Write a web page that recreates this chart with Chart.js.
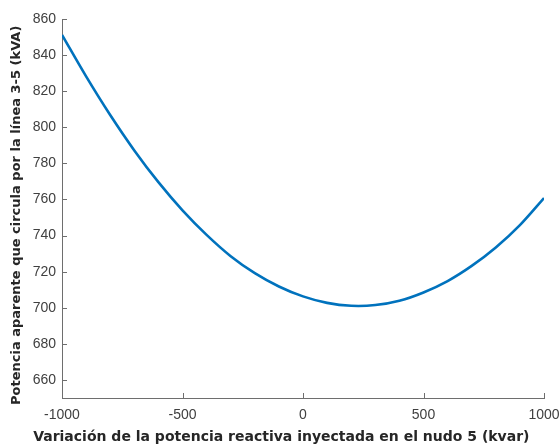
<!DOCTYPE html>
<html>
<head>
<meta charset="utf-8">
<script src="https://cdn.jsdelivr.net/npm/chart.js@4.4.1/dist/chart.umd.min.js"></script>
<style>
  html, body { margin: 0; padding: 0; background: #ffffff; }
  #wrap { width: 559px; height: 444px; position: relative; }
</style>
</head>
<body>
<div id="wrap"><canvas id="c" width="559" height="444"></canvas></div>
<script>
// Reactive power variation injected at node 5 (kvar)
const qValues = [-1000, -900, -800, -700, -600, -500, -400, -300, -200, -100, 0,
                 100, 200, 300, 400, 500, 600, 700, 800, 900, 1000];
// Apparent power through line 3-5 (kVA)
const sValues = [851.2, 828.2, 806.8, 787.2, 769.6, 754.0, 740.4, 728.6, 719.2, 711.8, 706.3,
                 702.7, 701.1, 701.5, 703.9, 708.5, 714.8, 723.2, 733.4, 745.8, 760.8];
const xTickValues = [-1000, -500, 0, 500, 1000];
const yTickValues = [660, 680, 700, 720, 740, 760, 780, 800, 820, 840, 860];

const xTitle = 'Variación de la potencia reactiva inyectada en el nudo 5 (kvar)';
const yTitle = 'Potencia aparente que circula por la línea 3-5 (kVA)';

const FONT = "'Liberation Sans', Arial, Helvetica, sans-serif";
const TITLE_FONT = "'DejaVu Sans', 'Liberation Sans', Arial, sans-serif";
const AXIS_COLOR = '#6e6e6e';
const TEXT_COLOR = '#404040';

const innerTicksAndTitles = {
  id: 'innerTicksAndTitles',
  afterDraw(chart) {
    const ctx = chart.ctx;
    const xs = chart.scales.x, ys = chart.scales.y;
    const a = chart.chartArea;
    ctx.save();
    ctx.strokeStyle = AXIS_COLOR;
    ctx.lineWidth = 1;
    ctx.beginPath();
    xTickValues.forEach(v => {
      const px = Math.round(xs.getPixelForValue(v)) + 0.5;
      ctx.moveTo(px, a.bottom);
      ctx.lineTo(px, a.bottom - 5);
    });
    yTickValues.forEach(v => {
      const py = Math.round(ys.getPixelForValue(v)) + 0.5;
      ctx.moveTo(a.left, py);
      ctx.lineTo(a.left + 5, py);
    });
    ctx.stroke();

    // axis titles
    ctx.fillStyle = '#262626';
    ctx.textAlign = 'center';
    ctx.textBaseline = 'middle';
    ctx.font = "bold 14px " + TITLE_FONT;
    ctx.fillText(xTitle, a.left + (a.right - a.left) * 0.455, 437);
    ctx.translate(17, a.top + (a.bottom - a.top) * 0.518);
    ctx.rotate(-Math.PI / 2);
    ctx.font = "bold 13px " + TITLE_FONT;
    ctx.fillText(yTitle, 0, 0);
    ctx.restore();
  }
};

new Chart(document.getElementById('c'), {
  type: 'scatter',
  data: {
    datasets: [{
      data: qValues.map((q, i) => ({ x: q, y: sValues[i] })),
      showLine: true,
      borderColor: '#0072BD',
      borderWidth: 2.6,
      pointRadius: 0,
      tension: 0.3,
      fill: false
    }]
  },
  options: {
    responsive: false,
    animation: false,
    devicePixelRatio: 1,
    layout: { padding: { top: 19, right: 15, left: 0, bottom: 0 } },
    plugins: { legend: { display: false }, tooltip: { enabled: false } },
    scales: {
      x: {
        type: 'linear',
        min: -1000, max: 1000,
        afterBuildTicks(s) { s.ticks = xTickValues.map(v => ({ value: v })); },
        afterFit(s) { s.height = 46; s.paddingLeft = 0; s.paddingRight = 0; },
        grid: { display: false, drawTicks: false },
        border: { display: true, color: AXIS_COLOR, width: 1 },
        ticks: {
          padding: 9,
          color: TEXT_COLOR,
          font: { family: FONT, size: 14 },
          maxRotation: 0,
          autoSkip: false,
          callback: v => String(v)
        },
        title: { display: false }
      },
      y: {
        type: 'linear',
        min: 650, max: 860,
        afterBuildTicks(s) { s.ticks = yTickValues.map(v => ({ value: v })); },
        afterFit(s) { s.width = 62; s.paddingTop = 0; s.paddingBottom = 0; },
        grid: { display: false, drawTicks: false },
        border: { display: true, color: AXIS_COLOR, width: 1 },
        ticks: {
          padding: 6,
          color: TEXT_COLOR,
          font: { family: FONT, size: 14 },
          autoSkip: false,
          callback: v => String(v)
        },
        title: { display: false }
      }
    }
  },
  plugins: [innerTicksAndTitles]
});
</script>
</body>
</html>
